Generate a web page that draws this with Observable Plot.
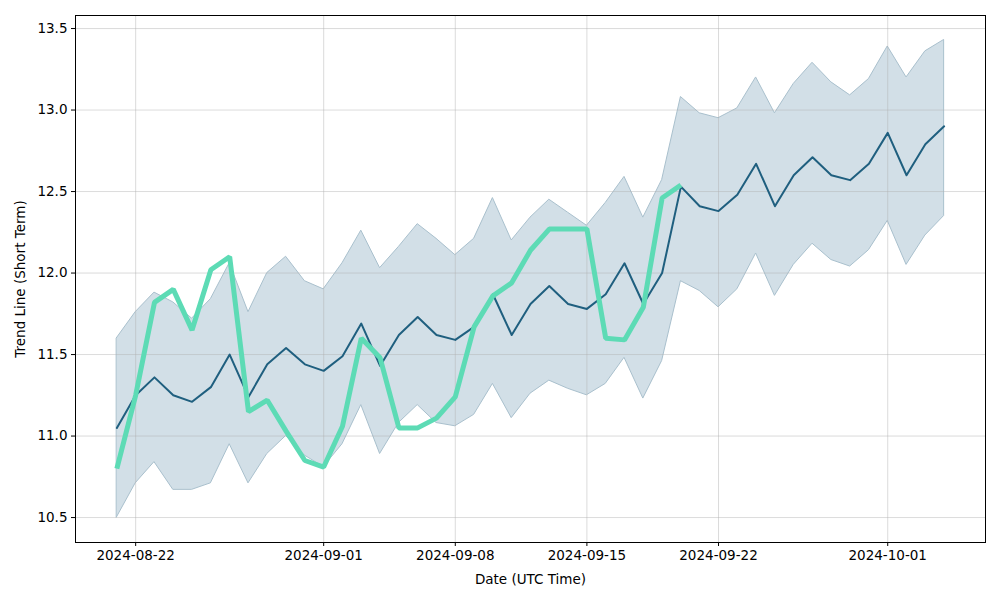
<!DOCTYPE html>
<html>
<head>
<meta charset="utf-8">
<script src="https://cdn.jsdelivr.net/npm/d3@7"></script>
<script src="https://cdn.jsdelivr.net/npm/@observablehq/plot@0.6"></script>
<style>
  html, body { margin: 0; padding: 0; background: #fff; }
  #chart { width: 1000px; height: 600px; }
</style>
</head>
<body>
<div id="chart"></div>
<script>
const startDate = "2024-08-21";
const meanValues = [11.05, 11.25, 11.36, 11.25, 11.21, 11.30, 11.50, 11.24, 11.44, 11.54, 11.44, 11.40, 11.49, 11.69, 11.43, 11.62, 11.73, 11.62, 11.59, 11.67, 11.87, 11.62, 11.81, 11.92, 11.81, 11.78, 11.87, 12.06, 11.81, 12.00, 12.53, 12.41, 12.38, 12.48, 12.67, 12.41, 12.60, 12.71, 12.60, 12.57, 12.67, 12.86, 12.60, 12.79, 12.90];
const upperValues = [11.60, 11.76, 11.88, 11.82, 11.72, 11.84, 12.06, 11.76, 12.00, 12.10, 11.95, 11.90, 12.06, 12.26, 12.03, 12.16, 12.30, 12.21, 12.11, 12.21, 12.46, 12.20, 12.34, 12.45, 12.37, 12.29, 12.43, 12.59, 12.34, 12.57, 13.08, 12.98, 12.95, 13.01, 13.20, 12.98, 13.16, 13.29, 13.17, 13.09, 13.19, 13.39, 13.20, 13.36, 13.43];
const lowerValues = [10.50, 10.71, 10.84, 10.67, 10.67, 10.71, 10.95, 10.71, 10.89, 11.00, 10.88, 10.81, 10.95, 11.19, 10.89, 11.08, 11.19, 11.08, 11.06, 11.13, 11.32, 11.11, 11.26, 11.34, 11.29, 11.25, 11.32, 11.48, 11.23, 11.46, 11.95, 11.89, 11.79, 11.90, 12.12, 11.86, 12.05, 12.18, 12.08, 12.04, 12.14, 12.32, 12.05, 12.23, 12.35];
const priceValues = [10.80, 11.25, 11.82, 11.90, 11.65, 12.02, 12.10, 11.15, 11.22, 11.03, 10.85, 10.81, 11.06, 11.60, 11.48, 11.05, 11.05, 11.11, 11.24, 11.67, 11.86, 11.94, 12.14, 12.27, 12.27, 12.27, 11.60, 11.59, 11.79, 12.46, 12.54];
const xTickLabels = ["2024-08-22", "2024-09-01", "2024-09-08", "2024-09-15", "2024-09-22", "2024-10-01"];
const yTickValues = [10.5, 11.0, 11.5, 12.0, 12.5, 13.0, 13.5];

const day = 24 * 3600 * 1000;
const t0 = new Date(startDate + "T00:00:00Z").getTime();
const band = meanValues.map((m, i) => ({date: new Date(t0 + i * day), mean: m, upper: upperValues[i], lower: lowerValues[i]}));
const price = priceValues.map((v, i) => ({date: new Date(t0 + i * day), value: v}));
const xTicks = xTickLabels.map(s => new Date(s + "T00:00:00Z"));

const chart = Plot.plot({
  width: 1000,
  height: 600,
  marginLeft: 75,
  marginRight: 15,
  marginTop: 15,
  marginBottom: 58,
  style: {fontFamily: "DejaVu Sans", fontSize: "13.5px", color: "black", background: "white"},
  x: {type: "utc", domain: [new Date(t0 - 2.2 * day), new Date(t0 + 46.2 * day)]},
  y: {domain: [10.347, 13.58]},
  marks: [
    Plot.areaY(band, {x: "date", y1: "lower", y2: "upper", fill: "#d2dfe7", stroke: "#a9c0cd", strokeWidth: 1}),
    Plot.gridX(xTicks, {stroke: "#b0b0b0", strokeOpacity: 0.45}),
    Plot.gridY(yTickValues, {stroke: "#b0b0b0", strokeOpacity: 0.45}),
    Plot.line(band, {x: "date", y: "mean", stroke: "#1f5f7f", strokeWidth: 2}),
    Plot.line(price, {x: "date", y: "value", stroke: "#5ddbb5", strokeWidth: 5, strokeLinejoin: "miter", strokeLinecap: "butt"}),
    Plot.axisX({ticks: xTicks, tickFormat: d3.utcFormat("%Y-%m-%d"), tickSize: 4, tickPadding: 4, label: "Date (UTC Time)", labelAnchor: "center", labelArrow: "none", labelOffset: 41}),
    Plot.axisY({ticks: yTickValues, tickFormat: d3.format(".1f"), tickSize: 4, tickPadding: 4, label: "Trend Line (Short Term)", labelAnchor: "center", labelArrow: "none", labelOffset: 60}),
    Plot.frame({stroke: "black", strokeWidth: 1})
  ]
});
document.getElementById("chart").appendChild(chart);
</script>
</body>
</html>
